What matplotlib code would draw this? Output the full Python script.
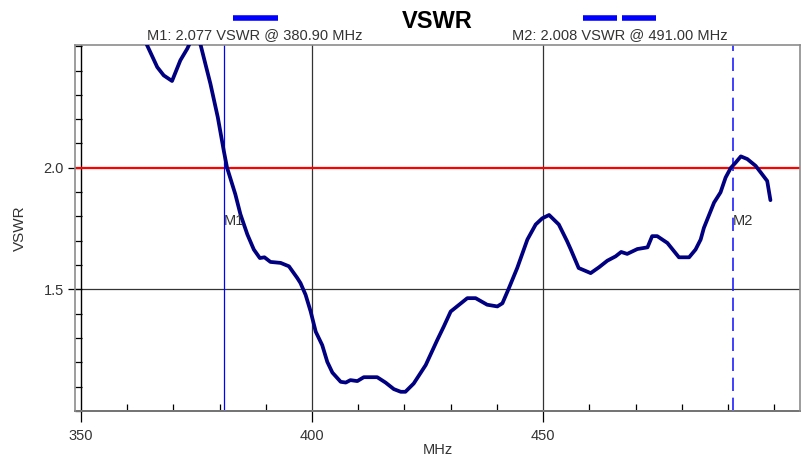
import matplotlib
matplotlib.use("Agg")
import matplotlib.pyplot as plt
from matplotlib.lines import Line2D
from matplotlib.ticker import MultipleLocator

plt.rcParams["font.family"] = ["Liberation Sans", "DejaVu Sans"]

# frequency (MHz) and VSWR
freq = [362.0, 364.3, 366.5, 367.9, 369.7, 371.5, 373.0, 374.7, 375.9, 377.0,
        378.0, 379.6, 380.9, 381.6, 382.5, 383.4, 384.5, 386.0, 387.4, 388.7,
        389.7, 391.0, 393.2, 395.0, 396.8, 397.5, 398.6, 399.7, 400.8, 402.2,
        403.3, 404.4, 406.2, 407.3, 408.3, 409.8, 411.2, 414.1, 415.9, 417.7,
        419.2, 420.2, 422.0, 424.6, 427.1, 428.5, 430.0, 433.6, 435.4, 437.9,
        440.1, 441.2, 442.6, 444.4, 446.6, 448.4, 449.8, 451.3, 453.4, 455.2,
        456.0, 457.7, 460.3, 462.1, 463.9, 465.7, 466.9, 468.2, 470.4, 472.6,
        473.6, 474.7, 476.9, 479.4, 481.6, 483.0, 484.1, 484.8, 487.0, 488.4,
        489.5, 490.6, 491.7, 492.8, 494.2, 496.0, 497.1, 498.5, 499.2]
vswr = [2.62, 2.504, 2.414, 2.380, 2.357, 2.442, 2.49, 2.56, 2.504, 2.421,
        2.346, 2.208, 2.070, 2.001, 1.946, 1.891, 1.809, 1.726, 1.664, 1.629,
        1.632, 1.613, 1.609, 1.595, 1.547, 1.526, 1.478, 1.409, 1.326, 1.271,
        1.202, 1.158, 1.120, 1.117, 1.127, 1.123, 1.139, 1.139, 1.117, 1.090,
        1.079, 1.079, 1.113, 1.189, 1.292, 1.347, 1.409, 1.464, 1.464, 1.437,
        1.430, 1.443, 1.505, 1.588, 1.705, 1.767, 1.792, 1.806, 1.767, 1.698,
        1.664, 1.588, 1.567, 1.591, 1.618, 1.636, 1.654, 1.646, 1.666, 1.673,
        1.719, 1.719, 1.691, 1.632, 1.632, 1.664, 1.705, 1.753, 1.857, 1.899,
        1.960, 1.999, 2.022, 2.047, 2.036, 2.008, 1.981, 1.946, 1.867]

limit = 2.0
m1_freq, m1_vswr = 380.90, 2.077
m2_freq, m2_vswr = 491.00, 2.008
xticks = [350, 400, 450]
yticks = [1.5, 2.0]

W, H = 806, 461
fig = plt.figure(figsize=(W / 100, H / 100), dpi=100)
ax = fig.add_axes([75 / W, 1 - 411 / H, 725 / W, 366 / H])

ax.set_xlim(348.7, 505.6)
ax.set_ylim(1.0, 2.505)

txt = "#333333"
grid = "#333333"
for s in ax.spines.values():
    s.set_color("#8c8c8c")
    s.set_linewidth(1.2)

# axis lines and grid
ax.axvline(350, color="black", lw=1.0, zorder=1)
ax.axhline(1.0, color="black", lw=1.4, zorder=1, clip_on=False)
for xv in xticks[1:]:
    ax.axvline(xv, color=grid, lw=0.9, zorder=1)
ax.axhline(1.5, color=grid, lw=0.9, zorder=1)
ax.axhline(limit, color="#ff0000", lw=1.6, zorder=2)

# markers
ax.axvline(m1_freq, color="#0000ff", lw=0.9, zorder=2)
ax.axvline(m2_freq, color="#2020ff", lw=1.2, dashes=(8, 4), zorder=2)

ax.plot(freq, vswr, color="#000080", lw=2.7, zorder=3,
        solid_capstyle="round", solid_joinstyle="round")

ax.text(m1_freq, 1.78, "M1", fontsize=10.5, color=txt, ha="left", va="center")
ax.text(m2_freq, 1.78, "M2", fontsize=10.5, color=txt, ha="left", va="center")

ax.set_xticks(xticks)
ax.set_yticks(yticks)
ax.set_xticklabels([str(v) for v in xticks])
ax.set_yticklabels(["{:.1f}".format(v) for v in yticks])
ax.xaxis.set_minor_locator(MultipleLocator(10))
ax.yaxis.set_minor_locator(MultipleLocator(0.1))
ax.tick_params(axis="x", which="major", direction="out", length=8, width=0.9,
               color="black", labelsize=10.5, labelcolor=txt, pad=5)
ax.tick_params(axis="x", which="minor", direction="in", length=5, width=0.9, color="black")
ax.tick_params(axis="y", which="major", direction="inout", length=10, width=0.9,
               color="black", labelsize=10.5, labelcolor=txt, pad=3)
ax.tick_params(axis="y", which="minor", direction="in", length=5, width=0.9, color="black")

ax.set_xlabel("MHz", fontsize=10.5, color=txt, labelpad=0)
ax.set_ylabel("VSWR", fontsize=11, color=txt, labelpad=12)

# header
fig.text(437 / W, 1 - 21 / H, "VSWR", fontsize=17, fontweight="bold",
         ha="center", va="center", color="black")
fig.text(255 / W, 1 - 35 / H, "M1: {:.3f} VSWR @ {:.2f} MHz".format(m1_vswr, m1_freq),
         fontsize=10.5, ha="center", va="center", color=txt)
fig.text(620 / W, 1 - 35 / H, "M2: {:.3f} VSWR @ {:.2f} MHz".format(m2_vswr, m2_freq),
         fontsize=10.5, ha="center", va="center", color=txt)
for x0, x1 in [(233, 278), (583, 617), (622, 656)]:
    fig.add_artist(Line2D([x0 / W, x1 / W], [1 - 18 / H, 1 - 18 / H],
                          color="#0000ff", lw=4, solid_capstyle="butt"))

fig.savefig("out.png", dpi=100)
